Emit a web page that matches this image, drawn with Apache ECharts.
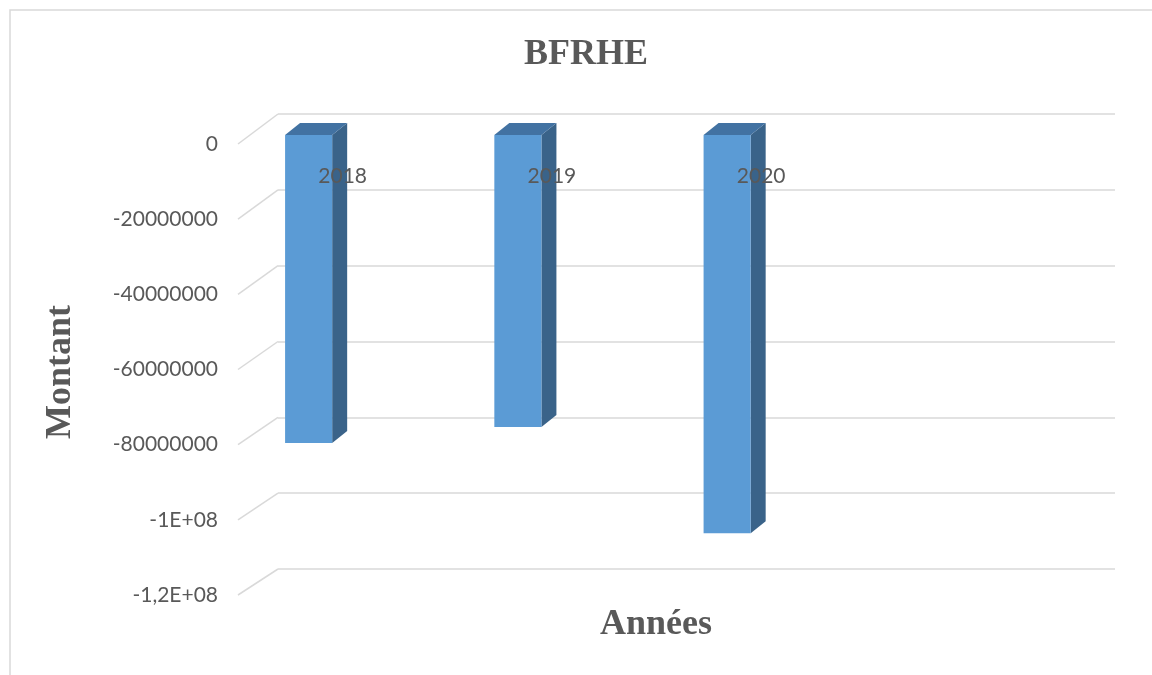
<!DOCTYPE html>
<html><head><meta charset="utf-8">
<script src="https://cdn.jsdelivr.net/npm/echarts@6/dist/echarts.min.js"></script>
<style>html,body{margin:0;padding:0;background:#fff}#c{width:1152px;height:675px}</style>
</head><body><div id="c"></div>
<script>
const categories = ['2018', '2019', '2020', ''];
const bfrhe = [-81800000, -77500000, -105700000];
const tickValues = [0, -20000000, -40000000, -60000000, -80000000, -100000000, -120000000];
const tickLabels = ['0', '-20000000', '-40000000', '-60000000', '-80000000', '-1E+08', '-1,2E+08'];
const chartTitle = 'BFRHE';
const xName = 'Années';
const yName = 'Montant';

const yMin = -120000000, yMax = 0, yStep = 20000000;
const labelFont = 'Lato';
const gridColor = '#D9D9D9';
const textColor = '#595959';

const chart = echarts.init(document.getElementById('c'), null, {renderer: 'canvas'});

chart.setOption({
  animation: false,
  backgroundColor: '#ffffff',
  grid: [
    {left: 238, right: 77, top: 144, bottom: 80},
    {left: 278, right: 37, top: 114, bottom: 106},
    {left: 204, right: 111, top: 135, bottom: 88}
  ],
  xAxis: [
    {type: 'category', gridIndex: 0, data: categories, z: 10, position: 'top',
     axisLine: {show: false}, axisTick: {show: false},
     axisLabel: {inside: true, color: textColor, fontFamily: labelFont, fontSize: 21, margin: 22}},
    {type: 'value', gridIndex: 1, min: 0, max: 1, show: false},
    {type: 'category', gridIndex: 2, data: categories, show: false},
    {type: 'value', gridIndex: 0, min: 0, max: 1, show: false, position: 'bottom'}
  ],
  yAxis: [
    {type: 'value', gridIndex: 0, min: yMin, max: yMax, interval: yStep,
     axisLine: {show: false}, axisTick: {show: false}, splitLine: {show: false},
     axisLabel: {color: textColor, fontFamily: labelFont, fontSize: 21, margin: 20,
       formatter: function (v) { const i = tickValues.indexOf(v); return i >= 0 ? tickLabels[i] : ''; }}},
    {type: 'value', gridIndex: 1, min: yMin, max: yMax, interval: yStep,
     axisLine: {show: false}, axisTick: {show: false}, axisLabel: {show: false},
     splitLine: {show: true, lineStyle: {color: gridColor, width: 1.5}}},
    {type: 'value', gridIndex: 2, min: yMin, max: yMax, interval: yStep, show: false}
  ],
  series: [{
    type: 'custom',
    xAxisIndex: 2, yAxisIndex: 2,
    z: 5,
    data: bfrhe.map(function (v, i) { return [i, v]; }),
    renderItem: function (params, api) {
      const x = api.value(0), v = api.value(1);
      const p0 = api.coord([x, 0]);
      const p1 = api.coord([x, v]);
      const w = api.size([1, 0])[0] * 0.225;
      const x0 = p0[0] - w / 2, x1 = p0[0] + w / 2, y0 = p0[1], y1 = p1[1];
      const dx = 15, dy = -12;
      return {type: 'group', children: [
        {type: 'polygon', shape: {points: [[x1, y0], [x1 + dx, y0 + dy], [x1 + dx, y1 + dy], [x1, y1]]}, style: {fill: '#3A6389'}},
        {type: 'rect', shape: {x: x0, y: y0, width: w, height: y1 - y0}, style: {fill: '#5B9BD5'}},
        {type: 'polygon', shape: {points: [[x0, y0], [x1, y0], [x1 + dx, y0 + dy], [x0 + dx, y0 + dy]]}, style: {fill: '#4272A2'}}
      ]};
    }
  }]
});

const bx = chart.convertToPixel({xAxisIndex: 1}, 0);
const fx = chart.convertToPixel({xAxisIndex: 3}, 0);
const graphics = [];
tickValues.forEach(function (v) {
  const by = chart.convertToPixel({yAxisIndex: 1}, v);
  const fy = chart.convertToPixel({yAxisIndex: 0}, v);
  graphics.push({type: 'line', z: 1, shape: {x1: fx, y1: fy, x2: bx, y2: by},
    style: {stroke: gridColor, lineWidth: 1.5}});
});
graphics.push({type: 'rect', z: 0, shape: {x: 10, y: 10, width: 1300, height: 800},
  style: {fill: 'none', stroke: gridColor, lineWidth: 1.5}});
graphics.push({type: 'text', z: 20, x: 586, y: 55,
  style: {text: chartTitle, font: 'bold 36px "Liberation Serif"', fill: textColor, align: 'center', verticalAlign: 'middle'}});
graphics.push({type: 'text', z: 20, x: 656, y: 625,
  style: {text: xName, font: 'bold 36px "Liberation Serif"', fill: textColor, align: 'center', verticalAlign: 'middle'}});
graphics.push({type: 'text', z: 20, x: 61, y: 372, rotation: Math.PI / 2,
  style: {text: yName, font: 'bold 36px "Liberation Serif"', fill: textColor, align: 'center', verticalAlign: 'middle'}});
chart.setOption({graphic: graphics});
</script>
</body></html>
